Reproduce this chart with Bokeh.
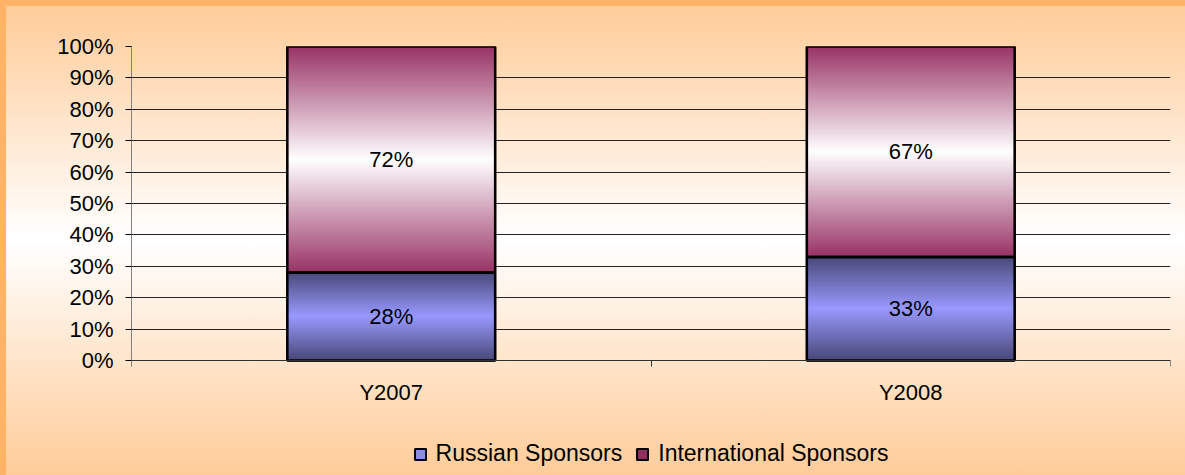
import numpy as np
from bokeh.plotting import figure
from bokeh.models import ColumnDataSource, FixedTicker, Range1d
from bokeh.core.properties import value
from bokeh.embed import file_html
from bokeh.resources import INLINE

# ---------------- data ----------------
categories = ["Y2007", "Y2008"]
russian = [0.28, 0.33]
international = [0.72, 0.67]
series_names = ["Russian Sponsors", "International Sponsors"]
russian_labels = ["28%", "33%"]
international_labels = ["72%", "67%"]
y_tick_values = [0.0, 0.1, 0.2, 0.3, 0.4, 0.5, 0.6, 0.7, 0.8, 0.9, 1.0]
y_tick_labels = ["0%", "10%", "20%", "30%", "40%", "50%", "60%", "70%", "80%", "90%", "100%"]

FONT = "Liberation Sans"
BAR_W = 0.4
Y_LOW = -0.366   # extra room below 0 inside the frame for category labels and legend

xc = np.arange(len(categories)) + 0.5
rus = np.array(russian)
intl = np.array(international)

p = figure(frame_width=1039, frame_height=429, output_backend="svg", toolbar_location=None,
           x_range=Range1d(0, len(categories)), y_range=Range1d(Y_LOW, 1),
           min_border_left=125, min_border_right=15, min_border_top=40, min_border_bottom=0)
p.background_fill_alpha = 0
p.border_fill_alpha = 0
p.outline_line_color = None
p.styles = {"background": "linear-gradient(to bottom, #FFCC99 0px, #FFFFFF 234px, #FFCC99 469px)",
            "background-repeat": "no-repeat"}


def gradient(edge, center, n=256):
    t = np.linspace(0.0, 1.0, n)
    w = 1.0 - np.abs(2.0 * t - 1.0)
    e = np.array(edge, dtype=float)
    c = np.array(center, dtype=float)
    rgb = e[None, :] + (c - e)[None, :] * w[:, None]
    img = np.empty((n, 1), dtype=np.uint32)
    view = img.view(dtype=np.uint8).reshape((n, 1, 4))
    view[:, 0, 0] = rgb[:, 0].round()
    view[:, 0, 1] = rgb[:, 1].round()
    view[:, 0, 2] = rgb[:, 2].round()
    view[:, 0, 3] = 255
    return img


rus_grad = gradient((72, 72, 120), (153, 153, 255))
int_grad = gradient((153, 51, 102), (255, 255, 255))

# filled bars (provide legend swatches)
src_r = ColumnDataSource(dict(left=xc - BAR_W / 2, right=xc + BAR_W / 2, bottom=np.zeros(len(rus)), top=rus))
src_i = ColumnDataSource(dict(left=xc - BAR_W / 2, right=xc + BAR_W / 2, bottom=rus, top=rus + intl))
p.quad(left="left", right="right", bottom="bottom", top="top", source=src_r,
       fill_color="#8C8CEB", line_color="black", line_width=2, legend_label=series_names[0])
p.quad(left="left", right="right", bottom="bottom", top="top", source=src_i,
       fill_color="#8F2F60", line_color="black", line_width=2, legend_label=series_names[1])

# gradient fills
img_src = ColumnDataSource(dict(
    image=[rus_grad] * len(rus) + [int_grad] * len(intl),
    x=list(xc - BAR_W / 2) * 2,
    y=list(np.zeros(len(rus))) + list(rus),
    dw=[BAR_W] * (len(rus) + len(intl)),
    dh=list(rus) + list(intl),
))
p.image_rgba(image="image", x="x", y="y", dw="dw", dh="dh", source=img_src)

# outlines on top
p.quad(left="left", right="right", bottom="bottom", top="top", source=src_r,
       fill_alpha=0, line_color="black", line_width=2.5)
p.quad(left="left", right="right", bottom="bottom", top="top", source=src_i,
       fill_alpha=0, line_color="black", line_width=2.5)

# data labels
lab_src = ColumnDataSource(dict(
    x=list(xc) * 2,
    y=list(rus / 2) + list(rus + intl / 2),
    text=russian_labels + international_labels,
))
p.text(x="x", y="y", text="text", source=lab_src, text_align="center", text_baseline="middle",
       text_font=value(FONT), text_font_size="22px", text_color="black")

# y axis
p.yaxis.ticker = FixedTicker(ticks=y_tick_values)
p.yaxis.bounds = (-0.02, 1)
p.yaxis.major_label_overrides = {v: l for v, l in zip(y_tick_values, y_tick_labels)}
p.yaxis.major_label_text_font = FONT
p.yaxis.major_label_text_font_size = "22px"
p.yaxis.major_label_text_color = "black"
p.yaxis.major_label_standoff = 12
p.yaxis.major_tick_out = 6
p.yaxis.major_tick_in = 0
p.yaxis.major_tick_line_color = "black"
p.yaxis.minor_tick_line_color = None
p.yaxis.axis_line_color = "#808080"

# x axis at y = 0: labels at category centers, ticks at boundaries
p.xaxis.fixed_location = 0
p.xaxis.ticker = FixedTicker(ticks=list(xc), minor_ticks=list(range(len(categories) + 1)))
p.xaxis.major_label_overrides = {float(v): c for v, c in zip(xc, categories)}
p.xaxis.major_label_text_font = FONT
p.xaxis.major_label_text_font_size = "22px"
p.xaxis.major_label_text_color = "black"
p.xaxis.major_tick_out = 0
p.xaxis.major_tick_in = 0
p.xaxis.major_label_standoff = 13
p.xaxis.minor_tick_out = 6
p.xaxis.minor_tick_in = 0
p.xaxis.minor_tick_line_color = "#303030"
p.xaxis.axis_line_color = "#303030"

p.xgrid.grid_line_color = None
p.ygrid.grid_line_color = "black"
p.ygrid.grid_line_alpha = 0.85

# legend inside the (extended) frame, bottom centre
lg = p.legend[0]
lg.orientation = "horizontal"
lg.location = "bottom_center"
lg.background_fill_alpha = 0
lg.border_line_alpha = 0
lg.label_text_font = FONT
lg.label_text_font_size = "23px"
lg.label_text_color = "black"
lg.glyph_width = 14
lg.glyph_height = 14
lg.label_standoff = 9
lg.spacing = 13
lg.padding = 4
lg.margin = 4

html = file_html(p, INLINE)
css = ("<style>html,body{margin:0 !important;padding:0 !important;background:#FFB366 !important;"
       "overflow:hidden;} body{padding:6px 0 0 6px !important;}</style>")
html = html.replace("</head>", css + "</head>", 1)
open("out.html", "w").write(html)
